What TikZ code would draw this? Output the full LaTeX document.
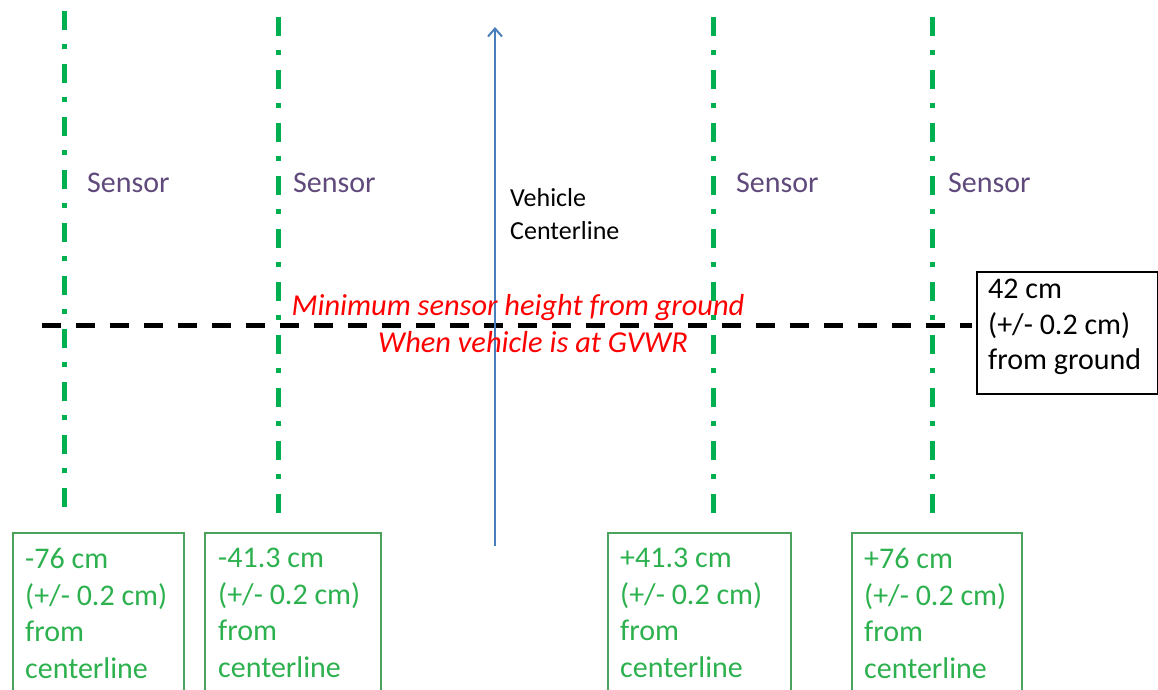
\documentclass[tikz,border=0pt]{standalone}
\usepackage{fontspec}
\setmainfont{Carlito}
\usetikzlibrary{arrows.meta}
\definecolor{lgreen}{HTML}{00B050}
\definecolor{tgreen}{HTML}{2DB14F}
\definecolor{bgreen}{HTML}{4BA35E}
\definecolor{spurple}{HTML}{604A7B}
\definecolor{cblue}{HTML}{4A7EBB}
\definecolor{tred}{HTML}{FF0000}
\tikzset{
  sensorline/.style={draw=lgreen, line width=5pt, dash pattern=on 19pt off 14pt on 5pt off 15pt},
  groundline/.style={draw=black, line width=5pt, dash pattern=on 19pt off 15pt},
  sensorlabel/.style={text=spurple, font=\fontsize{30}{36.6}\selectfont, inner sep=0pt, anchor=base west},
  gbox/.style={draw=bgreen, line width=1.5pt, anchor=north west, inner sep=0pt},
  gtext/.style={text=tgreen, font=\fontsize{30}{36.6}\selectfont, align=left, inner sep=0pt, anchor=north west},
  redtext/.style={text=tred, font=\fontsize{30.4}{37}\selectfont\itshape, inner sep=0pt, anchor=base},
  blacktext/.style={text=black, font=\fontsize{30}{35.5}\selectfont, align=left, inner sep=0pt, anchor=north west},
  cltext/.style={text=black, font=\fontsize{26}{33}\selectfont, align=left, inner sep=0pt, anchor=north west},
  clarrow/.style={draw=cblue, line width=2pt, -{Straight Barb[length=8pt,width=14pt,line width=2pt]}}
}
\begin{document}
\begin{tikzpicture}[x=1pt,y=-1pt]
\useasboundingbox (0,0) rectangle (1158,689);
% ground line
\coordinate (gl) at (42,325.5);
\coordinate (gr) at (972,325.5);
\draw[groundline] (gl) -- (gr);
% sensor lines
\coordinate (s1t) at (64.5,11); \coordinate (s1b) at (64.5,511);
\coordinate (s2t) at (278,17); \coordinate (s2b) at (278,515);
\coordinate (s3t) at (713,17); \coordinate (s3b) at (713,515);
\coordinate (s4t) at (932,17); \coordinate (s4b) at (932,515);
\draw[sensorline] (s1t) -- (s1b);
\draw[sensorline] (s2t) -- (s2b);
\draw[sensorline] (s3t) -- (s3b);
\draw[sensorline] (s4t) -- (s4b);
% sensor labels
\node[sensorlabel] (l1) at (87,192) {Sensor};
\node[sensorlabel] (l2) at (293,192) {Sensor};
\node[sensorlabel] (l3) at (736,192) {Sensor};
\node[sensorlabel] (l4) at (948,192) {Sensor};
% centerline arrow
\coordinate (cb) at (495,546);
\coordinate (ct) at (495,27);
\draw[clarrow] (cb) -- (ct);
\node[cltext] (cl) at (510,188) {Vehicle\\Centerline};
% red text
\node[redtext] (r1) at (518,315) {Minimum sensor height from ground};
\node[redtext] (r2) at (533,352) {When vehicle is at GVWR};
% height box
\node[draw=black, line width=1.5pt, anchor=north west, inner sep=0pt, minimum width=181pt, minimum height=122pt] (hb) at (976,271) {};
\node[blacktext] (ht) at (988,279) {42 cm\\(+/- 0.2 cm)\\from ground};
% green boxes
\node[gbox, minimum width=171pt, minimum height=200pt] (b1) at (12,532) {};
\node[gbox, minimum width=176pt, minimum height=200pt] (b2) at (204,532) {};
\node[gbox, minimum width=183pt, minimum height=200pt] (b3) at (607,532) {};
\node[gbox, minimum width=170pt, minimum height=200pt] (b4) at (851,532) {};
\node[gtext] (t1) at (25,548) {-76 cm\\(+/- 0.2 cm)\\from\\centerline};
\node[gtext] (t2) at (218,548) {-41.3 cm\\(+/- 0.2 cm)\\from\\centerline};
\node[gtext] (t3) at (620,548) {+41.3 cm\\(+/- 0.2 cm)\\from\\centerline};
\node[gtext] (t4) at (864,548) {+76 cm\\(+/- 0.2 cm)\\from\\centerline};
\end{tikzpicture}
\end{document}
